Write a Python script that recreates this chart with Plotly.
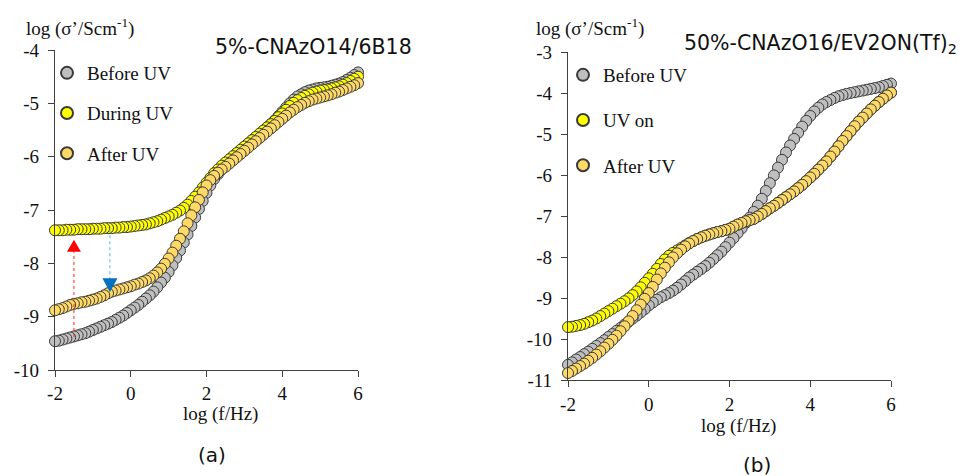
import plotly.graph_objects as go

# ---------------- data ----------------
freq_log = [round(-2 + 0.1 * i, 1) for i in range(81)]  # log(f/Hz) sampling grid, -2 ... 6

# Panel (a) 5%-CNAzO14/6B18
a_before = [-9.46, -9.45, -9.43, -9.41, -9.39, -9.37, -9.35, -9.33, -9.31, -9.28,
            -9.25, -9.22, -9.19, -9.16, -9.13, -9.10, -9.06, -9.02, -8.98, -8.93,
            -8.88, -8.83, -8.78, -8.72, -8.66, -8.60, -8.53, -8.45, -8.36, -8.27,
            -8.16, -8.04, -7.90, -7.76, -7.61, -7.46, -7.30, -7.14, -6.98, -6.83,
            -6.68, -6.54, -6.42, -6.33, -6.24, -6.16, -6.09, -6.02, -5.95, -5.88,
            -5.82, -5.76, -5.70, -5.64, -5.58, -5.52, -5.46, -5.39, -5.32, -5.24,
            -5.16, -5.08, -5.00, -4.93, -4.87, -4.83, -4.79, -4.76, -4.74, -4.72,
            -4.71, -4.70, -4.69, -4.67, -4.65, -4.63, -4.60, -4.56, -4.52, -4.47,
            -4.42]
a_during = [-7.38, -7.38, -7.38, -7.37, -7.37, -7.37, -7.36, -7.36, -7.36, -7.36,
            -7.35, -7.35, -7.35, -7.34, -7.34, -7.34, -7.33, -7.33, -7.32, -7.32,
            -7.31, -7.30, -7.29, -7.28, -7.27, -7.25, -7.23, -7.21, -7.18, -7.15,
            -7.12, -7.09, -7.05, -7.01, -6.96, -6.90, -6.83, -6.75, -6.67, -6.58,
            -6.49, -6.40, -6.31, -6.24, -6.17, -6.11, -6.05, -5.99, -5.93, -5.87,
            -5.81, -5.75, -5.69, -5.63, -5.57, -5.51, -5.45, -5.39, -5.33, -5.26,
            -5.19, -5.12, -5.05, -4.99, -4.94, -4.90, -4.86, -4.83, -4.80, -4.78,
            -4.76, -4.75, -4.74, -4.72, -4.70, -4.68, -4.65, -4.62, -4.58, -4.54,
            -4.50]
a_after = [-8.88, -8.86, -8.84, -8.81, -8.78, -8.76, -8.75, -8.73, -8.72, -8.70,
           -8.68, -8.66, -8.63, -8.60, -8.56, -8.53, -8.51, -8.49, -8.47, -8.45,
           -8.43, -8.40, -8.38, -8.35, -8.32, -8.28, -8.23, -8.17, -8.10, -8.01,
           -7.91, -7.80, -7.67, -7.54, -7.40, -7.25, -7.10, -6.95, -6.81, -6.67,
           -6.54, -6.44, -6.36, -6.30, -6.24, -6.19, -6.13, -6.07, -6.01, -5.95,
           -5.89, -5.83, -5.77, -5.71, -5.65, -5.59, -5.53, -5.47, -5.41, -5.35,
           -5.29, -5.23, -5.17, -5.12, -5.07, -5.03, -4.99, -4.96, -4.93, -4.91,
           -4.89, -4.87, -4.85, -4.83, -4.80, -4.78, -4.75, -4.72, -4.69, -4.66,
           -4.62]

# Panel (b) 50%-CNAzO16/EV2ON(Tf)2
b_before = [-10.63, -10.57, -10.50, -10.44, -10.37, -10.31, -10.24, -10.17, -10.10, -10.03,
            -9.95, -9.88, -9.80, -9.73, -9.65, -9.58, -9.50, -9.43, -9.35, -9.27,
            -9.18, -9.11, -9.04, -8.98, -8.93, -8.88, -8.82, -8.75, -8.67, -8.59,
            -8.50, -8.43, -8.36, -8.29, -8.22, -8.14, -8.05, -7.96, -7.87, -7.76,
            -7.65, -7.54, -7.42, -7.30, -7.17, -7.04, -6.90, -6.75, -6.58, -6.39,
            -6.20, -6.01, -5.82, -5.63, -5.45, -5.28, -5.12, -4.97, -4.82, -4.68,
            -4.56, -4.45, -4.36, -4.28, -4.22, -4.17, -4.12, -4.08, -4.05, -4.02,
            -4.00, -3.98, -3.96, -3.94, -3.92, -3.90, -3.88, -3.86, -3.83, -3.80,
            -3.77]
b_uv_on = [-9.71, -9.70, -9.68, -9.66, -9.63, -9.59, -9.55, -9.50, -9.44, -9.38,
           -9.32, -9.26, -9.20, -9.14, -9.08, -9.01, -8.93, -8.84, -8.74, -8.63,
           -8.52, -8.41, -8.29, -8.17, -8.06, -7.97, -7.90, -7.84, -7.78, -7.72,
           -7.66, -7.61, -7.56, -7.52, -7.48, -7.45, -7.42, -7.39, -7.37, -7.34,
           -7.31, -7.26, -7.21, -7.17, -7.13, -7.10, -7.07, -7.01, -6.95, -6.88,
           -6.81, -6.75, -6.68, -6.61, -6.54, -6.47, -6.40, -6.32, -6.24, -6.15,
           -6.06, -5.97, -5.87, -5.77, -5.67, -5.55, -5.43, -5.30, -5.17, -5.05,
           -4.93, -4.81, -4.70, -4.60, -4.50, -4.40, -4.31, -4.22, -4.14, -4.06,
           -3.99]
b_after = [-10.83, -10.78, -10.72, -10.66, -10.60, -10.53, -10.46, -10.38, -10.30, -10.21,
           -10.12, -10.02, -9.92, -9.81, -9.69, -9.57, -9.44, -9.30, -9.16, -9.02,
           -8.88, -8.73, -8.55, -8.40, -8.26, -8.13, -8.01, -7.91, -7.82, -7.74,
           -7.67, -7.61, -7.56, -7.52, -7.48, -7.45, -7.42, -7.39, -7.37, -7.34,
           -7.31, -7.26, -7.21, -7.17, -7.13, -7.10, -7.07, -7.01, -6.95, -6.88,
           -6.81, -6.75, -6.68, -6.61, -6.54, -6.47, -6.40, -6.32, -6.24, -6.15,
           -6.06, -5.97, -5.87, -5.77, -5.67, -5.55, -5.43, -5.30, -5.17, -5.05,
           -4.93, -4.81, -4.70, -4.60, -4.50, -4.40, -4.31, -4.22, -4.14, -4.06,
           -3.99]

x_ticks = [-2, 0, 2, 4, 6]
x_ticktext = ["-2", "0", "2", "4", "6"]
ya_ticks = [-10, -9, -8, -7, -6, -5, -4]
ya_ticktext = ["-10", "-9", "-8", "-7", "-6", "-5", "-4"]
yb_ticks = [-11, -10, -9, -8, -7, -6, -5, -4, -3]
yb_ticktext = ["-11", "-10", "-9", "-8", "-7", "-6", "-5", "-4", "-3"]

# arrows in panel (a): (x, y_start, y_end)
red_arrow = (-1.5, -9.38, -7.56)
blue_arrow = (-0.55, -7.36, -8.54)

# ---------------- style ----------------
W, H = 968, 476
GRAY, YELLOW, ORANGE = "#BFBFBF", "#FFFF00", "#FFD966"
EDGE = "#3a3a3a"
SERIF = "Liberation Serif"
SANS = "DejaVu Sans"
AX = "#404040"

fig = go.Figure()

def add_series(x, y, name, color, xa, ya, leg):
    fig.add_trace(go.Scatter(
        x=x[::-1], y=y[::-1], mode="markers", name=name,
        xaxis=xa, yaxis=ya, legend=leg, legendgroup=leg + name,
        cliponaxis=False,
        marker=dict(size=11, color=color, line=dict(color=EDGE, width=1)),
    ))

add_series(freq_log, a_before, "Before UV", GRAY, "x", "y", "legend")
add_series(freq_log, a_during, "During UV", YELLOW, "x", "y", "legend")
add_series(freq_log, a_after, "After UV", ORANGE, "x", "y", "legend")
add_series(freq_log, b_before, "Before UV", GRAY, "x2", "y2", "legend2")
add_series(freq_log, b_uv_on, "UV on", YELLOW, "x2", "y2", "legend2")
add_series(freq_log, b_after, "After UV", ORANGE, "x2", "y2", "legend2")

def px_x(p):
    return p / W

def px_y(p):
    return 1 - p / H

axis_common = dict(showgrid=False, zeroline=False, showline=True, linecolor=AX, linewidth=1.3,
                   ticks="outside", ticklen=6, tickwidth=1.3, tickcolor=AX,
                   automargin=False,
                   tickfont=dict(family=SERIF, size=19, color="#111"))

fig.update_layout(
    width=W, height=H, margin=dict(l=0, r=0, t=0, b=0, autoexpand=False),
    paper_bgcolor="white", plot_bgcolor="white",
    xaxis=dict(domain=[px_x(55), px_x(358)], range=[-2, 6], anchor="y", ticklabelstandoff=0,
               tickvals=x_ticks, ticktext=x_ticktext, **axis_common),
    yaxis=dict(domain=[px_y(370), px_y(50)], range=[-10, -4], anchor="x", ticklabelstandoff=5,
               tickvals=ya_ticks, ticktext=ya_ticktext, **axis_common),
    xaxis2=dict(domain=[px_x(568), px_x(891)], range=[-2, 6], anchor="y2", ticklabelstandoff=1,
                tickvals=x_ticks, ticktext=x_ticktext, **axis_common),
    yaxis2=dict(domain=[px_y(380), px_y(52)], range=[-11, -3], anchor="x2", ticklabelstandoff=5,
                tickvals=yb_ticks, ticktext=yb_ticktext, **axis_common),
    legend=dict(x=px_x(47), y=px_y(54), xanchor="left", yanchor="top",
                bgcolor="rgba(0,0,0,0)", itemsizing="constant", tracegroupgap=12.5,
                font=dict(family=SERIF, size=19, color="#111")),
    legend2=dict(x=px_x(563), y=px_y(56), xanchor="left", yanchor="top",
                 bgcolor="rgba(0,0,0,0)", itemsizing="constant", tracegroupgap=17.5,
                 font=dict(family=SERIF, size=19, color="#111")),
    showlegend=True,
)

ann = []
ann.append(dict(text="log (σ’/Scm<sup>-1</sup>)", x=px_x(24), y=px_y(27), xref="paper", yref="paper",
                xanchor="left", yanchor="middle", showarrow=False,
                font=dict(family=SERIF, size=19, color="#111")))
ann.append(dict(text="log (σ’/Scm<sup>-1</sup>)", x=px_x(534), y=px_y(27), xref="paper", yref="paper",
                xanchor="left", yanchor="middle", showarrow=False,
                font=dict(family=SERIF, size=19, color="#111")))
ann.append(dict(text="log (f/Hz)", x=px_x(220), y=px_y(414), xref="paper", yref="paper",
                xanchor="center", yanchor="middle", showarrow=False,
                font=dict(family=SERIF, size=19, color="#111")))
ann.append(dict(text="log (f/Hz)", x=px_x(738), y=px_y(426), xref="paper", yref="paper",
                xanchor="center", yanchor="middle", showarrow=False,
                font=dict(family=SERIF, size=19, color="#111")))
ann.append(dict(text="5%-CNAzO14/6B18", x=px_x(213), y=px_y(47), xref="paper", yref="paper",
                xanchor="left", yanchor="middle", showarrow=False,
                font=dict(family=SANS, size=20.5, color="#111")))
ann.append(dict(text="50%-CNAzO16/EV2ON(Tf)<sub>2</sub>", x=px_x(682), y=px_y(44), xref="paper", yref="paper",
                xanchor="left", yanchor="middle", showarrow=False,
                font=dict(family=SANS, size=20.5, color="#111")))
ann.append(dict(text="(a)", x=px_x(212), y=px_y(455), xref="paper", yref="paper",
                xanchor="center", yanchor="middle", showarrow=False,
                font=dict(family=SANS, size=20, color="#111")))
ann.append(dict(text="(b)", x=px_x(757), y=px_y(465), xref="paper", yref="paper",
                xanchor="center", yanchor="middle", showarrow=False,
                font=dict(family=SANS, size=20, color="#111")))
fig.update_layout(annotations=ann)

shapes = []
# red dashed arrow (upward)
rx, ry0, ry1 = red_arrow
shapes.append(dict(type="line", xref="x", yref="y", x0=rx, x1=rx, y0=ry0, y1=ry1 - 0.2,
                   line=dict(color="#FF2020", width=1, dash="dot")))
shapes.append(dict(type="path", xref="x", yref="y", xsizemode="pixel", ysizemode="pixel",
                   xanchor=rx, yanchor=ry1, path="M 0 0 L -7 -12 L 7 -12 Z",
                   fillcolor="#FF0000", line=dict(width=0)))
# blue dashed arrow (downward)
bx, by0, by1 = blue_arrow
shapes.append(dict(type="line", xref="x", yref="y", x0=bx, x1=bx, y0=by0, y1=by1 + 0.2,
                   line=dict(color="#4DB3E6", width=1, dash="dot")))
shapes.append(dict(type="path", xref="x", yref="y", xsizemode="pixel", ysizemode="pixel",
                   xanchor=bx, yanchor=by1, path="M 0 0 L -7.5 14 L 7.5 14 Z",
                   fillcolor="#0070C0", line=dict(width=0)))
fig.update_layout(shapes=shapes)

fig.write_html("out.html")
